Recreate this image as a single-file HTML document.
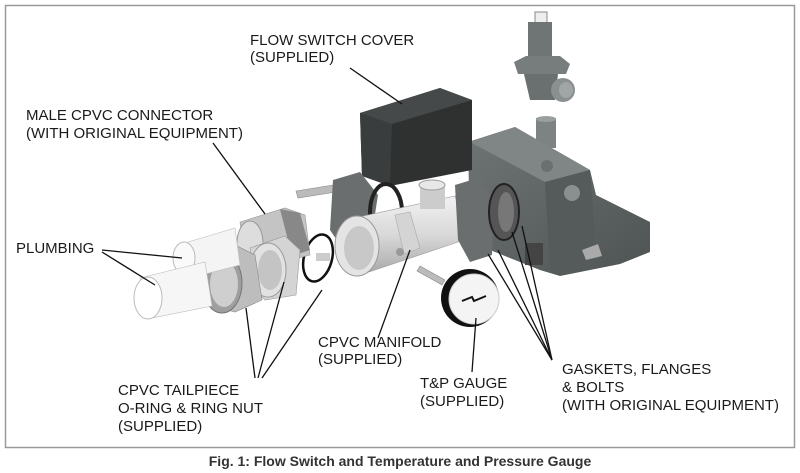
<!DOCTYPE html>
<html><head><meta charset="utf-8"><style>
html,body{margin:0;padding:0;background:#fff;}
svg{display:block;}
text{font-family:"Liberation Sans",Arial,sans-serif;font-size:15px;fill:#1a1a1a;}
.cap{font-weight:bold;font-size:14px;fill:#333;}
</style></head><body>
<svg width="800" height="473" viewBox="0 0 800 473" xmlns="http://www.w3.org/2000/svg">
<defs>
<linearGradient id="lg" x1="0" y1="0" x2="0" y2="1"><stop offset="0" stop-color="#f2f2f2"/><stop offset="0.5" stop-color="#d8d8d8"/><stop offset="1" stop-color="#a8a8a8"/></linearGradient>
<linearGradient id="dg" x1="0" y1="0" x2="1" y2="1"><stop offset="0" stop-color="#6f7474"/><stop offset="1" stop-color="#4e5353"/></linearGradient>
</defs>
<rect x="5.5" y="5.5" width="789" height="442" fill="#fff" stroke="#999" stroke-width="1.5"/>

<!-- relief valve -->
<rect x="535" y="12" width="12" height="12" fill="#eee" stroke="#888"/>
<rect x="528" y="22" width="24" height="38" fill="#6f7474"/>
<polygon points="514,62 526,56 560,56 570,64 566,74 518,74" fill="#777c7c"/>
<polygon points="524,74 558,74 555,100 530,100" fill="#6a6f6f"/>
<ellipse cx="563" cy="90" rx="12" ry="12" fill="#8a8f8f"/>
<ellipse cx="566" cy="90" rx="7" ry="8" fill="#a0a5a5"/>

<!-- valve body -->
<rect x="536" y="118" width="20" height="30" fill="#7d8282"/>
<ellipse cx="546" cy="119" rx="10" ry="3" fill="#9a9f9f"/>
<polygon points="468,142 515,127 590,170 596,195 650,222 650,252 620,264 560,276 540,270 470,242" fill="url(#dg)"/>
<polygon points="470,142 515,127 590,170 545,182" fill="#808585"/>
<polygon points="545,182 590,170 596,250 560,276 550,270" fill="#555a5a"/>
<circle cx="572" cy="193" r="8" fill="#8a8f8f"/>
<circle cx="547" cy="166" r="6" fill="#6a6f6f"/>
<rect x="525" y="243" width="18" height="22" fill="#444"/>
<polygon points="582,250 598,244 602,256 586,260" fill="#aaa"/>

<!-- cover box -->
<polygon points="360,113 440,88 472,100 472,170 390,186 362,176" fill="#2f3131"/>
<polygon points="360,113 440,88 472,100 392,124" fill="#464949"/>
<polygon points="360,113 392,124 390,186 362,176" fill="#3a3d3d"/>

<!-- bolts -->
<polygon points="296,191 340,184 342,191 298,198" fill="#bbb" stroke="#888" stroke-width="0.6"/>
<polygon points="420,266 445,280 442,285 417,271" fill="#bbb" stroke="#888" stroke-width="0.6"/>

<!-- left flange -->
<polygon points="333,180 360,172 378,195 370,246 345,252 330,230" fill="#6a6e6e"/>
<ellipse cx="386" cy="212" rx="16" ry="28" fill="none" stroke="#222" stroke-width="4"/>

<!-- manifold -->
<polygon points="345,220 455,196 470,238 360,275" fill="url(#lg)" stroke="#999" stroke-width="0.6"/>
<rect x="420" y="184" width="25" height="25" fill="#ccc"/>
<ellipse cx="432" cy="185" rx="13" ry="5" fill="#e8e8e8" stroke="#999"/>
<ellipse cx="357" cy="246" rx="22" ry="30" fill="#e4e4e4" stroke="#999"/>
<ellipse cx="359" cy="248" rx="15" ry="22" fill="#c8c8c8"/>
<polygon points="395,215 410,212 420,248 404,254" fill="#d4d4d4" stroke="#aaa" stroke-width="0.6"/>
<circle cx="400" cy="252" r="4" fill="#999"/>

<!-- right flange & gaskets -->
<polygon points="455,185 478,178 494,200 492,255 470,262 458,240" fill="#6a6e6e"/>
<ellipse cx="504" cy="212" rx="15" ry="28" fill="#555" stroke="#222" stroke-width="2"/>
<ellipse cx="506" cy="212" rx="8" ry="20" fill="#777"/>

<!-- O-ring -->
<ellipse cx="318" cy="258" rx="14" ry="24" fill="none" stroke="#111" stroke-width="2.5" transform="rotate(15 318 258)"/>
<rect x="316" y="253" width="14" height="8" fill="#ccc"/>

<!-- male connector -->
<polygon points="240,222 285,208 305,215 310,255 270,265 245,262" fill="#c4c4c4" stroke="#999" stroke-width="0.6"/>
<ellipse cx="250" cy="243" rx="13" ry="22" fill="#ddd" stroke="#999"/>
<polygon points="280,209 300,213 310,250 292,256" fill="#888"/>

<!-- tailpiece -->
<polygon points="250,248 285,236 300,250 296,295 265,300 255,290" fill="#d4d4d4" stroke="#999" stroke-width="0.6"/>
<ellipse cx="268" cy="270" rx="18" ry="27" fill="#e2e2e2" stroke="#999"/>
<ellipse cx="270" cy="270" rx="12" ry="20" fill="#c4c4c4"/>

<!-- ring nut -->
<polygon points="205,258 235,245 255,255 262,300 235,312 210,305" fill="#bdbdbd" stroke="#888" stroke-width="0.6"/>
<ellipse cx="222" cy="283" rx="20" ry="30" fill="#9e9e9e" stroke="#777"/>
<ellipse cx="224" cy="284" rx="14" ry="23" fill="#cfcfcf"/>

<!-- plumbing -->
<polygon points="178,245 235,228 240,265 190,278" fill="#f4f4f4" stroke="#bbb" stroke-width="0.6"/>
<ellipse cx="184" cy="258" rx="11" ry="16" fill="#fafafa" stroke="#bbb"/>
<polygon points="140,278 205,262 212,306 152,318" fill="#f6f6f6" stroke="#bbb" stroke-width="0.6"/>
<ellipse cx="148" cy="298" rx="14" ry="21" fill="#fff" stroke="#bbb"/>

<!-- gauge -->
<circle cx="470" cy="298" r="29" fill="#111"/>
<circle cx="474" cy="299" r="25" fill="#f4f4f4" stroke="#ccc"/>
<path d="M462,301 L472,297 L474,301 L486,296" stroke="#111" stroke-width="2" fill="none"/>

<!-- leader lines -->
<g stroke="#111" stroke-width="1.3" fill="none">
<line x1="350" y1="68" x2="402" y2="104"/>
<line x1="213" y1="143" x2="265" y2="214"/>
<line x1="102" y1="250" x2="182" y2="258"/>
<line x1="102" y1="252" x2="155" y2="285"/>
<line x1="255" y1="378" x2="246" y2="308"/>
<line x1="258" y1="378" x2="284" y2="282"/>
<line x1="262" y1="378" x2="322" y2="290"/>
<line x1="378" y1="338" x2="410" y2="250"/>
<line x1="472" y1="372" x2="476" y2="318"/>
<line x1="552" y1="360" x2="488" y2="254"/>
<line x1="552" y1="360" x2="498" y2="250"/>
<line x1="552" y1="360" x2="512" y2="232"/>
<line x1="552" y1="360" x2="522" y2="226"/>
</g>

<text x="250" y="45">FLOW SWITCH COVER</text>
<text x="250" y="62">(SUPPLIED)</text>
<text x="26" y="120">MALE CPVC CONNECTOR</text>
<text x="26" y="138">(WITH ORIGINAL EQUIPMENT)</text>
<text x="16" y="253">PLUMBING</text>
<text x="318" y="347">CPVC MANIFOLD</text>
<text x="318" y="364">(SUPPLIED)</text>
<text x="118" y="395">CPVC TAILPIECE</text>
<text x="118" y="413">O-RING &amp; RING NUT</text>
<text x="118" y="431">(SUPPLIED)</text>
<text x="420" y="388">T&amp;P GAUGE</text>
<text x="420" y="406">(SUPPLIED)</text>
<text x="562" y="374">GASKETS, FLANGES</text>
<text x="562" y="392">&amp; BOLTS</text>
<text x="562" y="410">(WITH ORIGINAL EQUIPMENT)</text>
<text class="cap" x="400" y="466" text-anchor="middle">Fig. 1: Flow Switch and Temperature and Pressure Gauge</text>
</svg>
</body></html>
